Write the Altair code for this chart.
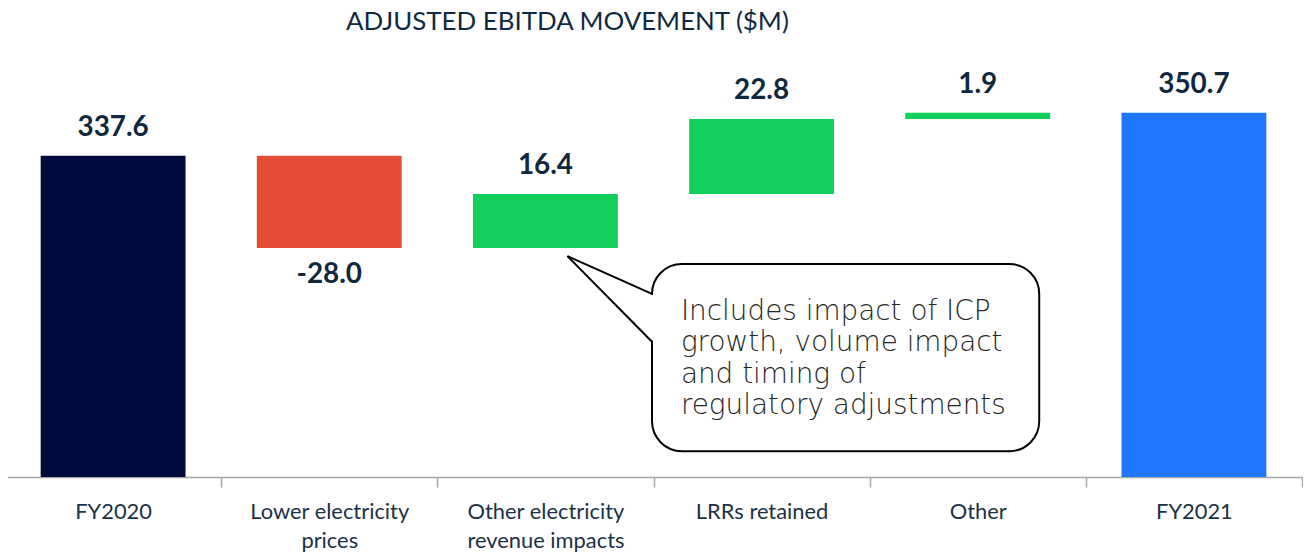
import altair as alt
import pandas as pd

# ---- data ----
categories = [
    "FY2020",
    "Lower electricity\nprices",
    "Other electricity\nrevenue impacts",
    "LRRs retained",
    "Other",
    "FY2021",
]
values = [337.6, -28.0, 16.4, 22.8, 1.9, 350.7]
kinds = ["start", "decrease", "increase", "increase", "increase", "end"]

kind_domain = ["start", "decrease", "increase", "end"]
kind_colors = ["#000B3D", "#E54D37", "#10CF5A", "#1F77FF"]

title_text = "ADJUSTED EBITDA MOVEMENT ($M)"
callout_lines = [
    "Includes impact of ICP",
    "growth, volume impact",
    "and timing of",
    "regulatory adjustments",
]

Y_MIN, Y_MAX = 240, 381.5

# ---- waterfall table ----
rows = []
running = 0.0
for cat, v, k in zip(categories, values, kinds):
    if k in ("start", "end"):
        start, end = Y_MIN, v
        running = v
    else:
        start, end = running, running + v
        running = end
    rows.append(
        dict(
            category=cat,
            value=v,
            kind=k,
            start=start,
            end=end,
            top=max(start, end),
            bottom=min(start, end),
            label=f"{v:.1f}",
        )
    )
df = pd.DataFrame(rows)

x_scale = alt.Scale(paddingInner=0, paddingOuter=0)
x_enc = alt.X(
    "category:N",
    sort=categories,
    scale=x_scale,
    axis=alt.Axis(
        title=None,
        labelAngle=0,
        tickBand="extent",
        domainColor="#A6A6A6",
        tickColor="#A6A6A6",
        domainWidth=1.5,
        tickWidth=1.5,
        tickSize=10,
        labelFont="Lato",
        labelFontSize=22,
        labelColor="#1B3147",
        labelPadding=15,
        labelLineHeight=29,
        labelLimit=400,
        labelExpr="split(datum.label, '\\n')",
    ),
)
y_scale = alt.Scale(domain=[Y_MIN, Y_MAX], zero=False, nice=False)

base = alt.Chart(df)

bars = base.mark_bar(width=alt.RelativeBandSize(0.67)).encode(
    x=x_enc,
    y=alt.Y("start:Q", scale=y_scale, axis=None),
    y2="end:Q",
    color=alt.Color(
        "kind:N", scale=alt.Scale(domain=kind_domain, range=kind_colors), legend=None
    ),
)

label_style = dict(font="Lato", fontSize=28, fontWeight="bold", color="#10283E")

up_labels = (
    base.transform_filter("datum.kind != 'decrease'")
    .mark_text(baseline="alphabetic", dy=-20, **label_style)
    .encode(x=alt.X("category:N", sort=categories), y=alt.Y("top:Q", scale=y_scale), text="label:N")
)
down_labels = (
    base.transform_filter("datum.kind == 'decrease'")
    .mark_text(baseline="alphabetic", dy=35, **label_style)
    .encode(x=alt.X("category:N", sort=categories), y=alt.Y("bottom:Q", scale=y_scale), text="label:N")
)

anno = alt.Chart(pd.DataFrame({"a": [0]}))

title = anno.mark_text(
    text=title_text, font="Lato", fontSize=26, color="#0F2A40",
    align="center", baseline="alphabetic",
).encode(x=alt.value(565), y=alt.value(19))

box = anno.mark_rect(
    cornerRadius=30, fill="white", stroke="black", strokeWidth=2
).encode(x=alt.value(650), x2=alt.value(1039), y=alt.value(254), y2=alt.value(442))

gap = anno.mark_rule(color="white", strokeWidth=4).encode(
    x=alt.value(650), y=alt.value(285), y2=alt.value(331)
)
edge1 = anno.mark_rule(color="black", strokeWidth=2).encode(
    x=alt.value(650), y=alt.value(284), x2=alt.value(565), y2=alt.value(246)
)
edge2 = anno.mark_rule(color="black", strokeWidth=2).encode(
    x=alt.value(650), y=alt.value(332), x2=alt.value(565), y2=alt.value(246)
)

callout = anno.mark_text(
    text=callout_lines, align="left", baseline="alphabetic",
    font="DejaVu Sans", fontWeight=200, fontSize=28, lineHeight=31.5, color="#262626",
).encode(x=alt.value(679), y=alt.value(310))

chart = (
    alt.layer(bars, up_labels, down_labels, title, box, gap, edge1, edge2, callout)
    .properties(
        width=1303,
        height=468,
        background="white",
        padding={"left": -4, "right": 0, "top": 0, "bottom": 0},
    )
    .configure_view(strokeWidth=0)
)

chart.save("out.html", embed_options={"renderer": "svg", "actions": False})
